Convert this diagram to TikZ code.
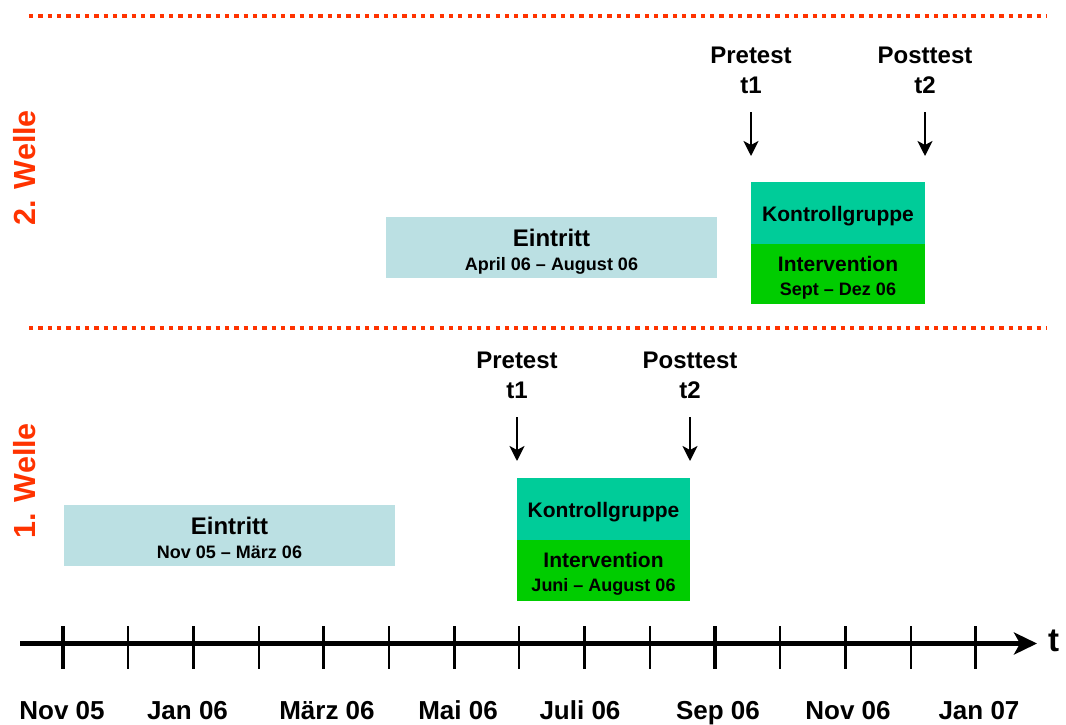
\documentclass[tikz,border=0pt]{standalone}
\usepackage{fontspec}
\setmainfont{Liberation Sans}
\usetikzlibrary{arrows.meta}

\definecolor{wellecol}{RGB}{255,51,0}
\definecolor{eintrittcol}{RGB}{187,224,227}
\definecolor{kontrollcol}{RGB}{0,204,153}
\definecolor{intervcol}{RGB}{0,204,0}

\tikzset{
  txt/.style={inner sep=0pt, anchor=base},
  big/.style={txt, font=\fontsize{24}{28}\selectfont\bfseries},
  mid/.style={txt, font=\fontsize{21}{25}\selectfont\bfseries},
  small/.style={txt, font=\fontsize{18}{22}\selectfont\bfseries},
  month/.style={txt, font=\fontsize{26}{30}\selectfont\bfseries},
  wlabel/.style={inner sep=0pt, rotate=90, text=wellecol, font=\fontsize{30.5}{34}\selectfont\bfseries},
  area/.style={draw=none, inner sep=0pt, anchor=north west},
  separator/.style={wellecol, line width=4.5pt, dash pattern=on 4.3pt off 5.03pt},
  testarrow/.style={line width=2.7pt, -{Stealth[length=15pt,width=15pt,inset=4pt]}},
  axisline/.style={line width=4.5pt, -{Stealth[length=23pt,width=22pt,inset=6pt]}},
  majortick/.style={line width=3.3pt},
  minortick/.style={line width=2pt}
}

\begin{document}
\begin{tikzpicture}[x=1pt,y=-1pt]
\useasboundingbox (0,0) rectangle (1066,724);

% separators between the two waves
\coordinate (sepAl) at (29,16);   \coordinate (sepAr) at (1046,16);
\coordinate (sepBl) at (29,328);  \coordinate (sepBr) at (1046,328);
\draw[separator] (sepAl) -- (sepAr);
\draw[separator] (sepBl) -- (sepBr);

% wave labels
\node[wlabel] (welle2) at (25,168) {2. Welle};
\node[wlabel] (welle1) at (25,481) {1. Welle};

% ---------- 2. Welle ----------
\node[area, fill=eintrittcol, minimum width=331pt, minimum height=61pt] (ein2) at (386,217) {};
\node[big] (ein2a) at (551.5,246) {Eintritt};
\node[small] (ein2b) at (551.5,270) {April 06 -- August 06};

\node[area, fill=kontrollcol, minimum width=174pt, minimum height=62pt] (kg2) at (751,182) {};
\node[area, fill=intervcol, minimum width=174pt, minimum height=60pt] (iv2) at (751,244) {};
\node[mid] (kg2t) at (838,221) {Kontrollgruppe};
\node[mid] (iv2t) at (838,271) {Intervention};
\node[small] (iv2d) at (838,295) {Sept -- Dez 06};

\node[big] (pre2) at (751,63) {Pretest};
\node[big] (pre2t) at (751,93) {t1};
\node[big] (post2) at (925,63) {Posttest};
\node[big] (post2t) at (925,93) {t2};
\coordinate (pre2a) at (751,112);  \coordinate (pre2b) at (751,156);
\coordinate (post2a) at (925,112); \coordinate (post2b) at (925,156);
\draw[testarrow] (pre2a) -- (pre2b);
\draw[testarrow] (post2a) -- (post2b);

% ---------- 1. Welle ----------
\node[area, fill=eintrittcol, minimum width=331pt, minimum height=61pt] (ein1) at (64,505) {};
\node[big] (ein1a) at (229.5,534) {Eintritt};
\node[small] (ein1b) at (229.5,558) {Nov 05 -- März 06};

\node[area, fill=kontrollcol, minimum width=173pt, minimum height=62pt] (kg1) at (517,478) {};
\node[area, fill=intervcol, minimum width=173pt, minimum height=61pt] (iv1) at (517,540) {};
\node[mid] (kg1t) at (603.5,517) {Kontrollgruppe};
\node[mid] (iv1t) at (603.5,567) {Intervention};
\node[small] (iv1d) at (603.5,591) {Juni -- August 06};

\node[big] (pre1) at (517,368) {Pretest};
\node[big] (pre1t) at (517,398) {t1};
\node[big] (post1) at (690,368) {Posttest};
\node[big] (post1t) at (690,398) {t2};
\coordinate (pre1a) at (517,417);  \coordinate (pre1b) at (517,461);
\coordinate (post1a) at (690,417); \coordinate (post1b) at (690,461);
\draw[testarrow] (pre1a) -- (pre1b);
\draw[testarrow] (post1a) -- (post1b);

% ---------- time axis ----------
\coordinate (axL) at (20,643.5);
\coordinate (axR) at (1037,643.5);
\draw[axisline] (axL) -- (axR);
\node[txt, font=\fontsize{33}{38}\selectfont\bfseries] (tlab) at (1053.5,651) {t};

\foreach \k in {0,...,14}{
  \pgfmathsetmacro{\xx}{63+65.2*\k}
  \pgfmathtruncatemacro{\tickparity}{mod(\k,2)}
  \ifnum\tickparity=0
    \draw[majortick] (\xx,626) -- (\xx,669);
  \else
    \draw[minortick] (\xx,626) -- (\xx,669);
  \fi
}

\foreach \lab/\xx [count=\i from 0] in {Nov 05/62,Jan 06/187.5,März 06/327,Mai 06/458,Juli 06/580,Sep 06/718,Nov 06/848,Jan 07/979}{
  \node[month] (m\i) at (\xx,719.5) {\lab};
}
\end{tikzpicture}
\end{document}
